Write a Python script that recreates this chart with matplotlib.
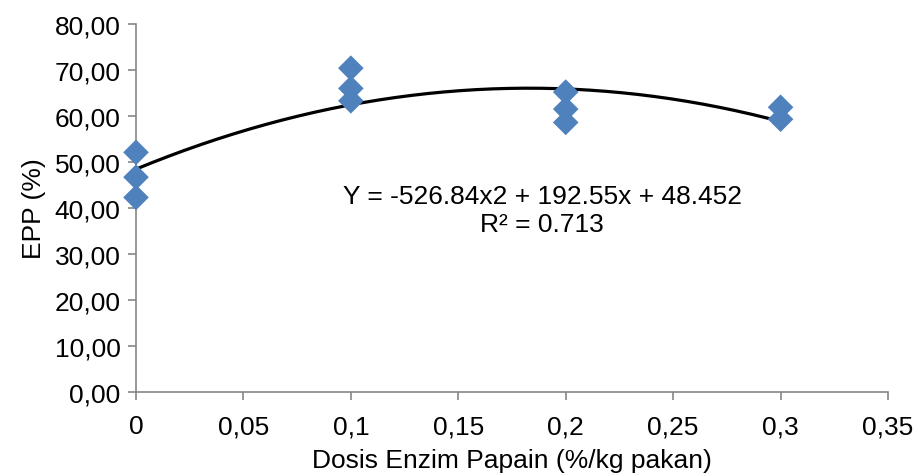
import matplotlib
matplotlib.use("Agg")
import matplotlib.pyplot as plt
import numpy as np
from matplotlib.ticker import FuncFormatter

# observed EPP values by papain dose
dose = [0, 0, 0, 0.1, 0.1, 0.1, 0.2, 0.2, 0.2, 0.3, 0.3]
epp = [52.1, 46.7, 42.3, 70.4, 66.0, 63.3, 65.2, 61.5, 58.6, 61.9, 59.3]

# quadratic trendline as reported on the chart
coef = [-526.84, 192.55, 48.452]
eq_text = "Y = -526.84x2 + 192.55x + 48.452\nR² = 0.713"

plt.rcParams["font.family"] = ["Liberation Sans", "DejaVu Sans"]
FS = 19

fig = plt.figure(figsize=(9.17, 4.77), dpi=100)
ax = fig.add_axes([136 / 917, 1 - 393 / 477, (888 - 136) / 917, (393 - 25) / 477])

xs = np.linspace(min(dose), max(dose), 200)
ax.plot(xs, np.polyval(coef, xs), color="black", lw=2.3, zorder=2)
ax.scatter(dose, epp, marker="D", s=170, color="#4F81BD", edgecolors="none", zorder=3, clip_on=False)

ax.set_xlim(0, 0.35)
ax.set_ylim(0, 80)
ax.set_xticks(np.arange(0, 0.351, 0.05))
ax.set_yticks(np.arange(0, 80.1, 10))

def fmt_x(v, _):
    s = f"{v:.2f}".rstrip("0").rstrip(".")
    return s.replace(".", ",")

ax.xaxis.set_major_formatter(FuncFormatter(fmt_x))
ax.yaxis.set_major_formatter(FuncFormatter(lambda v, _: f"{v:.2f}".replace(".", ",")))

for side in ["top", "right"]:
    ax.spines[side].set_visible(False)
for side in ["left", "bottom"]:
    ax.spines[side].set_color("#868686")
    ax.spines[side].set_linewidth(1.2)
ax.tick_params(axis="both", colors="#868686", labelcolor="black", labelsize=FS, length=6, width=1.2)
ax.tick_params(axis="x", pad=10)
ax.tick_params(axis="y", pad=5)

ax.set_xlabel("Dosis Enzim Papain (%/kg pakan)", fontsize=FS, labelpad=7)
ax.set_ylabel("EPP (%)", fontsize=FS, labelpad=6)

ax.text(0.189, 39.6, eq_text, ha="center", va="center", fontsize=FS, linespacing=1.2)

fig.savefig("out.png", dpi=100)
